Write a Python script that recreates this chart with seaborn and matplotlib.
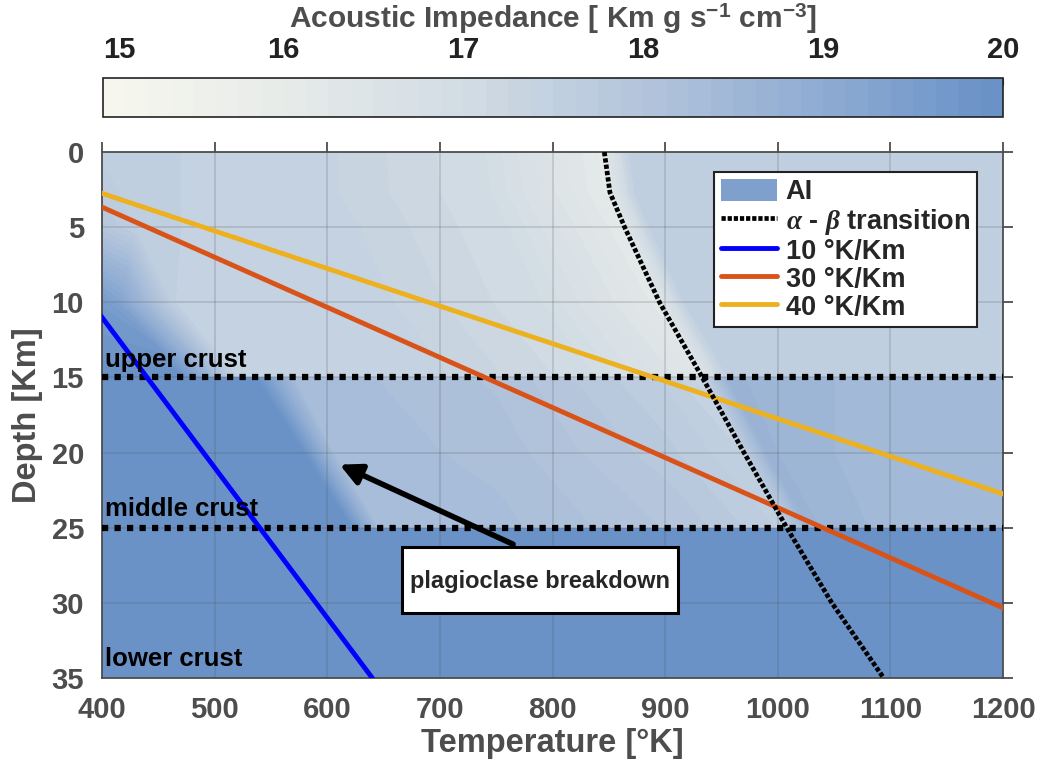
import numpy as np
import pandas as pd
import matplotlib
matplotlib.use("Agg")
import matplotlib.pyplot as plt
import seaborn as sns
from matplotlib.colors import LinearSegmentedColormap
from matplotlib.lines import Line2D
from matplotlib.patches import Patch, Rectangle

# -----------------------------
# data
# -----------------------------
# geotherms: temperature [K] at depth 0 and 35 km
geo_depth = [0, 35]
geo_10 = [290, 640]
geo_30 = [290, 1340]
geo_40 = [290, 1690]
geo_labels = ["10 °K/Km", "30 °K/Km", "40 °K/Km"]
geo_colors = ["#0000ff", "#d95319", "#edb120"]

# alpha - beta quartz transition
ab_depth = [0, 2.7, 5, 10, 15, 20, 25, 30, 35]
ab_temp = [846, 851, 864, 895, 933, 970, 1008, 1048, 1094]

# acoustic impedance nodes, upper crust (0-15 km)
up_depth = [0, 2.7, 5, 10, 15]
up_temp = [
    [400, 430, 470, 600, 740, 843, 868, 1200],
    [400, 430, 470, 600, 745, 848, 873, 1200],
    [400, 430, 470, 620, 760, 861, 886, 1200],
    [400, 415, 465, 650, 790, 892, 917, 1200],
    [400, 470, 520, 700, 830, 930, 956, 1200],
]
up_ai = [
    [17.6, 17.55, 17.5, 17.4, 17.0, 16.1, 17.5, 17.6],
    [17.7, 17.55, 17.5, 17.4, 17.0, 16.1, 17.5, 17.6],
    [17.9, 17.6, 17.5, 17.4, 17.0, 16.15, 17.5, 17.6],
    [19.6, 19.3, 17.5, 17.4, 17.0, 16.2, 17.5, 17.6],
    [19.95, 19.95, 17.5, 17.4, 17.05, 16.35, 17.5, 17.6],
]

# middle crust (15-25 km)
mid_depth = [15, 20, 25]
mid_temp = [
    [400, 535, 570, 750, 900, 931, 955, 1050, 1200],
    [400, 578, 605, 750, 900, 967, 990, 1050, 1200],
    [400, 620, 645, 750, 920, 1005, 1028, 1080, 1200],
]
mid_ai = [
    [19.95, 19.95, 18.35, 18.1, 17.6, 17.3, 18.65, 18.5, 18.45],
    [19.95, 19.95, 18.35, 18.2, 17.8, 17.5, 18.65, 18.5, 18.45],
    [19.95, 19.95, 18.35, 18.3, 17.95, 17.6, 18.65, 18.5, 18.45],
]

# lower crust (25-35 km)
low_depth = [25, 35]
low_temp = [400, 1200]
low_ai = [[19.95, 19.95], [19.95, 19.95]]

crust_depths = [15, 25]
crust_labels = ["upper crust", "middle crust", "lower crust"]
cbar_ticks = [15, 16, 17, 18, 19, 20]
cmap_colors = ["#f7f7ee", "#e7ebe9", "#d2dce4", "#b3c5dc", "#8eabd2", "#6890c6"]

# -----------------------------
# style
# -----------------------------
sns.set_theme(style="white")
plt.rcParams["font.family"] = ["Liberation Sans", "DejaVu Sans"]
plt.rcParams["font.weight"] = "bold"
plt.rcParams["mathtext.fontset"] = "custom"
plt.rcParams["mathtext.rm"] = "Liberation Sans:bold"
plt.rcParams["mathtext.bf"] = "Liberation Sans:bold"
plt.rcParams["mathtext.it"] = "Liberation Serif:italic"

grey = "#4d4d4d"
cmap = LinearSegmentedColormap.from_list("ai", cmap_colors)
levels = np.linspace(15, 20, 41)

fig = plt.figure(figsize=(10.43, 7.67), dpi=100)
ax = fig.add_axes([0.0978, 0.116, 0.8639, 0.6858])


def layer(depths, temps, values):
    T = np.array(temps, dtype=float)
    if T.ndim == 1:
        T = np.tile(T, (len(depths), 1))
    D = np.repeat(np.array(depths, dtype=float)[:, None], T.shape[1], axis=1)
    return ax.contourf(T, D, np.array(values), levels=levels, cmap=cmap,
                       vmin=15, vmax=20, zorder=0.5)


cs = layer(up_depth, up_temp, up_ai)
layer(mid_depth, mid_temp, mid_ai)
layer(low_depth, low_temp, low_ai)

# crust boundaries
for d in crust_depths:
    ax.plot([400, 1200], [d, d], color="black", lw=4.5, ls=(0, (1, 1)),
            solid_capstyle="butt", dash_capstyle="butt", zorder=3)

# geotherms
geo = pd.DataFrame({
    "depth": geo_depth * 3,
    "temp": geo_10 + geo_30 + geo_40,
    "grad": [g for g in geo_labels for _ in geo_depth],
})
sns.lineplot(data=geo, x="temp", y="depth", hue="grad", palette=geo_colors,
             lw=3.5, legend=False, ax=ax, sort=False, zorder=4)

# alpha-beta transition
sns.lineplot(x=ab_temp, y=ab_depth, color="black", lw=3.4, ls=(0, (0.9, 0.45)),
             sort=False, ax=ax, zorder=5)

ax.set_xlim(400, 1200)
ax.set_ylim(35, 0)
ax.set_xticks(range(400, 1201, 100))
ax.set_yticks(range(0, 36, 5))
ax.grid(True, color="#555555", alpha=0.22, lw=1.2)
ax.set_axisbelow(False)
ax.tick_params(direction="out", length=7, width=1.3, top=True, right=True,
               color=grey, labelcolor=grey, labelsize=21, pad=6)
for s in ax.spines.values():
    s.set_color(grey)
    s.set_linewidth(1.3)
ax.set_xlabel("Temperature [°K]", fontsize=23.5, fontweight="bold", color=grey, labelpad=3)
ax.set_ylabel("Depth [Km]", fontsize=23.5, fontweight="bold", color=grey, labelpad=6)

# crust labels
for d, lab in zip([14.3, 24.2, 34.2], crust_labels):
    ax.text(403, d, lab, fontsize=18.5, fontweight="bold", color="black",
            va="baseline", ha="left", zorder=6)

# plagioclase box + arrow
ax.add_patch(Rectangle((666, 26.3), 245, 4.4, facecolor="white",
                       edgecolor="black", lw=2.2, zorder=6))
ax.text(789, 28.6, "plagioclase breakdown", fontsize=17, fontweight="bold",
        ha="center", va="center", zorder=7)
ax.annotate("", xy=(611, 20.8), xytext=(765, 26.1),
            arrowprops=dict(arrowstyle="-|>", lw=4, color="black",
                            mutation_scale=32, shrinkA=0, shrinkB=0),
            zorder=7)

# legend
handles = [
    Patch(facecolor="#7fa0cc", edgecolor="none"),
    Line2D([], [], color="black", lw=3.4, ls=(0, (0.9, 0.4))),
] + [Line2D([], [], color=c, lw=3.5) for c in geo_colors]
labels = ["AI", r"$\alpha$ - $\beta$ transition"] + geo_labels
leg = ax.legend(handles, labels, loc="upper right", bbox_to_anchor=(0.971, 0.962),
                borderaxespad=0, fontsize=19.5, handlelength=2.1, handleheight=0.9,
                handletextpad=0.3, labelspacing=0.05, borderpad=0.25,
                fancybox=False, framealpha=1, edgecolor="#222222")
leg.get_frame().set_linewidth(1.5)
leg.set_zorder(8)

# colorbar
cax = fig.add_axes([0.0988, 0.8475, 0.863, 0.051])
cb = fig.colorbar(cs, cax=cax, orientation="horizontal")
cb.set_ticks(cbar_ticks)
cax.xaxis.set_ticks_position("top")
cax.xaxis.set_label_position("top")
cax.tick_params(direction="in", length=5, width=0.8, color="#333333",
                labelcolor="#222222", labelsize=21, pad=10)
cax.get_xticklabels()[0].set_ha("left")
cb.outline.set_edgecolor("#222222")
cb.outline.set_linewidth(1.2)
cb.set_label(r"Acoustic Impedance [ Km g s$^{\mathregular{-1}}$ cm$^{\mathregular{-3}}$]",
             fontsize=21.5, fontweight="bold", color=grey, labelpad=6)

fig.savefig("out.png", dpi=100, facecolor="white")
